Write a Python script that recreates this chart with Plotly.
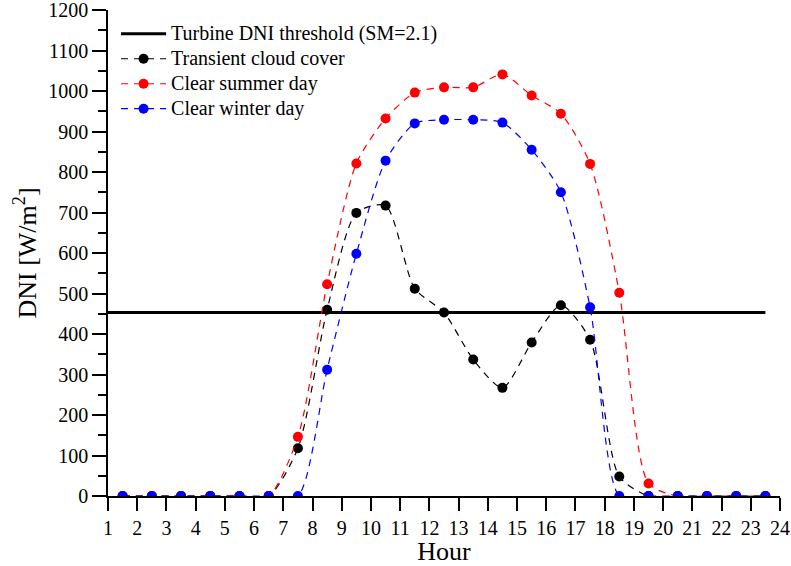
import plotly.graph_objects as go

hours = [1.5, 2.5, 3.5, 4.5, 5.5, 6.5, 7.5, 8.5, 9.5, 10.5, 11.5, 12.5,
         13.5, 14.5, 15.5, 16.5, 17.5, 18.5, 19.5, 20.5, 21.5, 22.5, 23.5]
transient = [0, 0, 0, 0, 0, 0, 118, 460, 699, 717, 512, 453,
             337, 267, 379, 471, 386, 48, 0, 0, 0, 0, 0]
summer = [0, 0, 0, 0, 0, 0, 146, 523, 821, 932, 996, 1009,
          1009, 1041, 989, 944, 820, 502, 31, 0, 0, 0, 0]
winter = [0, 0, 0, 0, 0, 0, 0, 312, 598, 828, 920, 929,
          929, 922, 855, 750, 466, 0, 0, 0, 0, 0, 0]
threshold_x = [1, 23.5]
threshold_y = [453, 453]
x_ticks = list(range(1, 25))
y_ticks = list(range(0, 1201, 100))
series_names = ["Turbine DNI threshold (SM=2.1)", "Transient cloud cover",
                "Clear summer day", "Clear winter day"]

FONT = "Liberation Serif, Times New Roman, serif"
DASH = "7px,6px"


def legend_label(s):
    return '<span style="font-size:20px">' + s + '</span>'


fig = go.Figure()
fig.add_trace(go.Scatter(x=threshold_x, y=threshold_y, mode="lines",
                         name=legend_label(series_names[0]),
                         line=dict(color="black", width=3)))
for name, vals, col in [(series_names[1], transient, "black"),
                        (series_names[2], summer, "red"),
                        (series_names[3], winter, "blue")]:
    fig.add_trace(go.Scatter(x=hours, y=vals, mode="lines+markers",
                             name=legend_label(name),
                             line=dict(color=col, width=1.2, dash=DASH,
                                       shape="spline", smoothing=0.7),
                             marker=dict(color=col, size=10, symbol="circle")))

fig.update_layout(
    width=791, height=566,
    margin=dict(l=108, r=11, t=10, b=70),
    plot_bgcolor="white", paper_bgcolor="white",
    font=dict(family=FONT, size=19, color="black"),
    showlegend=True,
    legend=dict(x=0.012, y=0.987, xanchor="left", yanchor="top",
                bgcolor="rgba(0,0,0,0)", font=dict(family=FONT, size=16.9),
                tracegroupgap=0, itemwidth=45),
    xaxis=dict(range=[1, 24], tickvals=x_ticks, ticktext=[str(t) for t in x_ticks],
               showgrid=False, zeroline=False, showline=True, linecolor="black",
               linewidth=1.5, ticks="outside", ticklen=13, tickwidth=1.5,
               tickcolor="black", tickfont=dict(family=FONT, size=20),
               automargin=False, ticklabeloverflow="allow",
               title=dict(text="Hour", font=dict(family=FONT, size=26), standoff=0)),
    yaxis=dict(range=[0, 1200], tickvals=y_ticks, ticktext=[str(t) for t in y_ticks],
               showgrid=False, zeroline=False, showline=True, linecolor="black",
               linewidth=1.5, ticks="outside", ticklen=14, tickwidth=1.5,
               tickcolor="black", tickfont=dict(family=FONT, size=20),
               automargin=False, ticklabeloverflow="allow",
               minor=dict(dtick=50, tick0=0, ticks="outside", ticklen=8,
                          tickwidth=1.5, tickcolor="black", showgrid=False),
               title=dict(text="DNI [W/m<sup>2</sup>]", font=dict(family=FONT, size=26),
                          standoff=4)),
)
fig.write_html("out.html", config={"displayModeBar": False},
               post_script="document.body.style.margin='0';")
